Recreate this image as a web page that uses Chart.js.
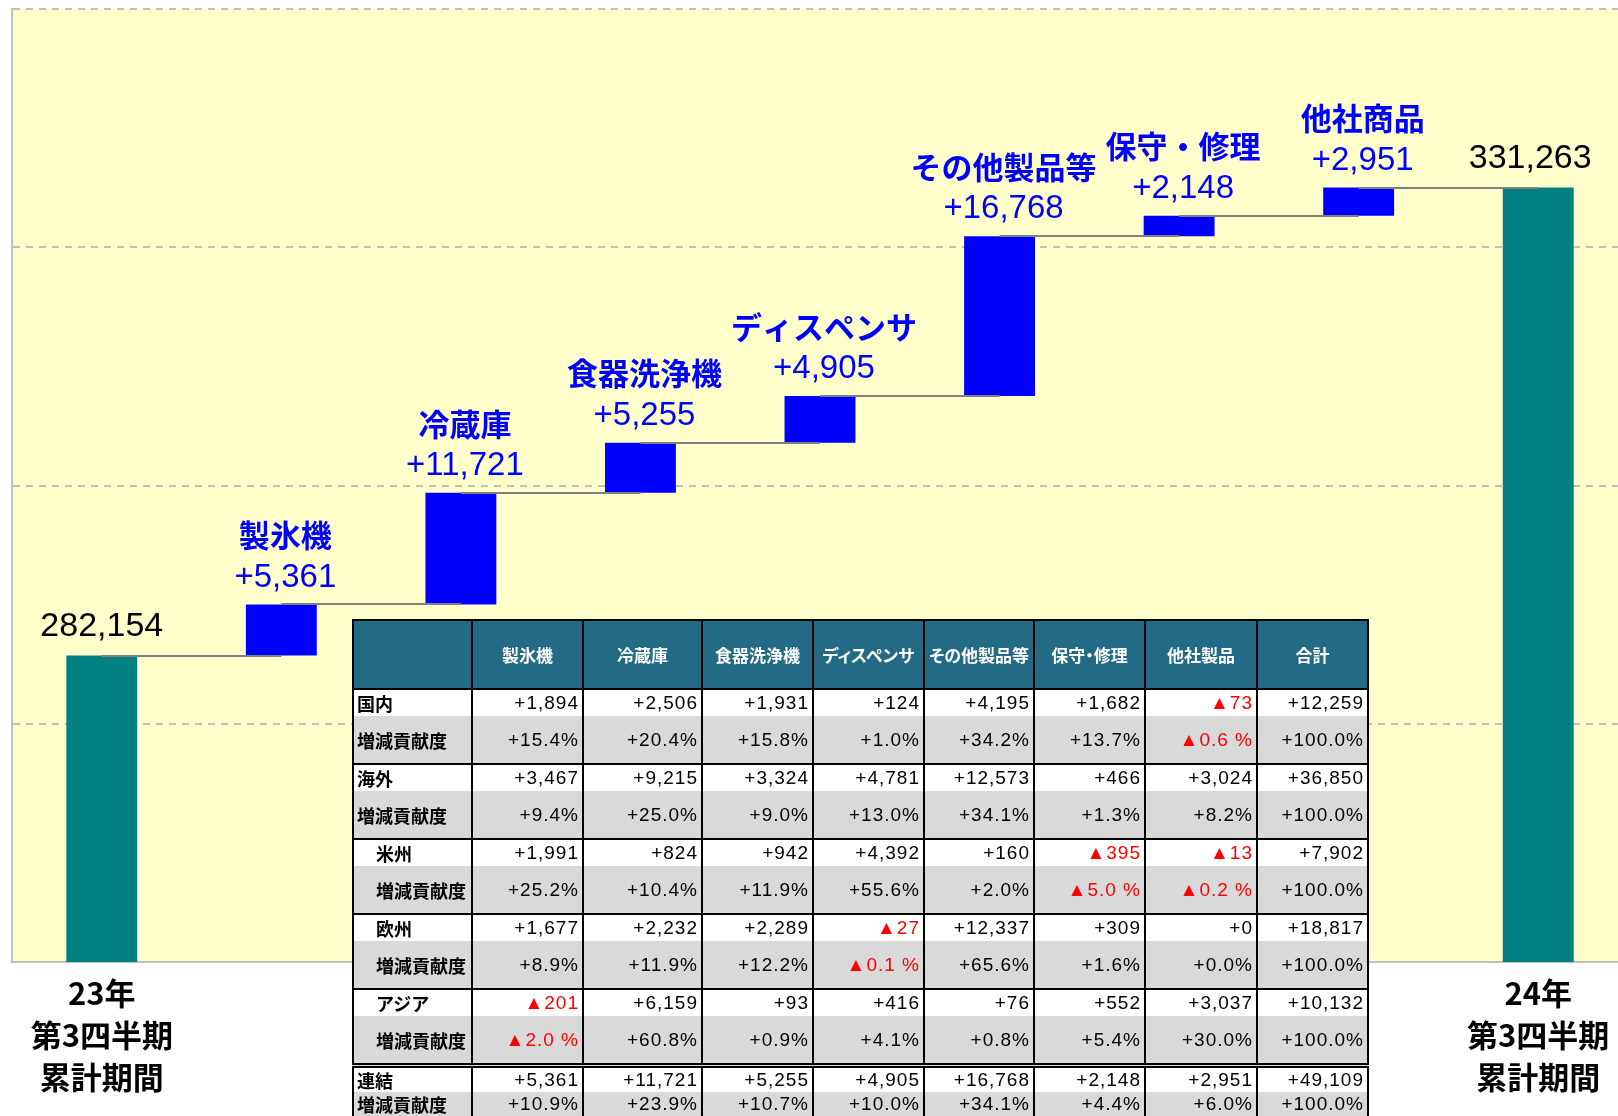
<!DOCTYPE html>
<html lang="ja">
<head>
<meta charset="utf-8">
<script src="https://cdn.jsdelivr.net/npm/chart.js@4.4.1/dist/chart.umd.min.js"></script>
<style>
  html, body { margin: 0; padding: 0; background: #fff; width: 1618px; height: 1116px; overflow: hidden; }
  #wrap { position: relative; width: 1618px; height: 1116px; }
  #chart { position: absolute; left: 0; top: 0; }
  #breakdown {
    position: absolute; left: 352px; top: 619px; width: 1015px;
    border-collapse: collapse; table-layout: fixed;
    font-family: "Liberation Sans", Arial, sans-serif; font-size: 19px; color: #000;
    border: 2px solid #000;
  }
  #breakdown th {
    background: #236b84; color: #fff; height: 67px; padding: 0;
    font: bold 17px "Noto Sans CJK JP", sans-serif; font-feature-settings: "palt";
    border: 2px solid #000; text-align: center; white-space: nowrap;
  }
  #breakdown td {
    padding: 0 3px 0 3px; text-align: right; letter-spacing: 1px;
    border-left: 2px solid #000; border-right: 2px solid #000; white-space: nowrap;
  }
  #breakdown td.lbl {
    text-align: left; font: bold 18px "Noto Sans CJK JP", sans-serif; letter-spacing: 0;
  }
  #breakdown td.sub { padding-left: 22px; }
  #breakdown tr.amt td { background: #fff; height: 26px; line-height: 22px; }
  #breakdown tr.pct td { background: #d9d9d9; height: 47px; }
  #breakdown tr.grp td { border-top: 2px solid #000; }
  #breakdown tr.total td { border-top: 5px double #000; }
  #breakdown tr.compact td { height: 24px; line-height: 22px; }
  #breakdown .neg { color: #ff0000; }
</style>
</head>
<body>
<div id="wrap">
  <canvas id="chart" width="1640" height="1116"></canvas>
  <table id="breakdown"></table>
</div>
<script>
// waterfall data
const periodStart = ['23年', '第3四半期', '累計期間'];
const periodEnd = ['24年', '第3四半期', '累計期間'];
const stepNames = ['製氷機', '冷蔵庫', '食器洗浄機', 'ディスペンサ', 'その他製品等', '保守・修理', '他社商品'];
const stepValues = [5361, 11721, 5255, 4905, 16768, 2148, 2951];
const startTotal = 282154;
const endTotal = 331263;
const yTicks = [250000, 275000, 300000, 325000, 350000];

// table data
const tableColumns = ['製氷機', '冷蔵庫', '食器洗浄機', 'ディスペンサ', 'その他製品等', '保守・修理', '他社製品', '合計'];
const domestic = [1894, 2506, 1931, 124, 4195, 1682, -73, 12259];
const domesticShare = [15.4, 20.4, 15.8, 1.0, 34.2, 13.7, -0.6, 100.0];
const overseas = [3467, 9215, 3324, 4781, 12573, 466, 3024, 36850];
const overseasShare = [9.4, 25.0, 9.0, 13.0, 34.1, 1.3, 8.2, 100.0];
const americas = [1991, 824, 942, 4392, 160, -395, -13, 7902];
const americasShare = [25.2, 10.4, 11.9, 55.6, 2.0, -5.0, -0.2, 100.0];
const europe = [1677, 2232, 2289, -27, 12337, 309, 0, 18817];
const europeShare = [8.9, 11.9, 12.2, -0.1, 65.6, 1.6, 0.0, 100.0];
const asia = [-201, 6159, 93, 416, 76, 552, 3037, 10132];
const asiaShare = [-2.0, 60.8, 0.9, 4.1, 0.8, 5.4, 30.0, 100.0];
const consolidated = [5361, 11721, 5255, 4905, 16768, 2148, 2951, 49109];
const consolidatedShare = [10.9, 23.9, 10.7, 10.0, 34.1, 4.4, 6.0, 100.0];

const fmtNum = n => n < 0 ? '▲' + Math.abs(n).toLocaleString('en-US') : '+' + n.toLocaleString('en-US');
const fmtPct = p => p < 0 ? '▲' + Math.abs(p).toFixed(1) + ' %' : '+' + p.toFixed(1) + '%';
const fmtTotal = n => n.toLocaleString('en-US');

// build floating bars
const labels = [periodStart, ...stepNames, periodEnd];
const bars = [[0, startTotal]];
const levels = [startTotal];
let running = startTotal;
stepValues.forEach(v => {
    bars.push([running, running + v]);
    running += v;
    levels.push(running);
});
bars.push([0, endTotal]);

const barColors = labels.map((l, i) => (i === 0 || i === labels.length - 1) ? '#008080' : '#0000ff');

const plotBackground = {
    id: 'plotBackground',
    beforeDraw(chart) {
        const { ctx, chartArea } = chart;
        ctx.save();
        ctx.fillStyle = '#ffffcc';
        ctx.fillRect(chartArea.left, chartArea.top, chartArea.right - chartArea.left, chartArea.bottom - chartArea.top);
        ctx.restore();
    }
};

// gray step lines from the centre of one bar to the centre of the next
const connectors = {
    id: 'connectors',
    afterDatasetsDraw(chart) {
        const { ctx, scales } = chart;
        ctx.save();
        ctx.strokeStyle = '#808080';
        ctx.lineWidth = 2;
        levels.forEach((lv, i) => {
            const y = Math.round(scales.y.getPixelForValue(lv));
            ctx.beginPath();
            ctx.moveTo(scales.x.getPixelForValue(i), y);
            ctx.lineTo(scales.x.getPixelForValue(i + 1), y);
            ctx.stroke();
        });
        ctx.restore();
    }
};

const barLabels = {
    id: 'barLabels',
    afterDatasetsDraw(chart) {
        const ctx = chart.ctx;
        const meta = chart.getDatasetMeta(0);
        ctx.save();
        ctx.textAlign = 'center';
        ctx.textBaseline = 'middle';
        meta.data.forEach((el, i) => {
            const top = Math.min(el.y, el.base);
            if (i === 0 || i === meta.data.length - 1) {
                ctx.fillStyle = '#000';
                ctx.font = '34px "Liberation Sans", Arial, sans-serif';
                ctx.fillText(fmtTotal(i === 0 ? startTotal : endTotal), el.x - (i === 0 ? 0 : 8), top - 29);
            } else {
                ctx.fillStyle = '#0000ff';
                ctx.font = '33px "Liberation Sans", Arial, sans-serif';
                ctx.fillText(fmtNum(stepValues[i - 1]), el.x + 4, top - 27);
                ctx.font = 'bold 31px "Noto Sans CJK JP", sans-serif';
                ctx.fillText(stepNames[i - 1], el.x + 4, top - 69);
            }
        });
        ctx.restore();
    }
};

new Chart(document.getElementById('chart').getContext('2d'), {
    type: 'bar',
    data: {
        labels: labels,
        datasets: [{
            data: bars,
            backgroundColor: barColors,
            borderWidth: 0,
            barPercentage: 0.395,
            categoryPercentage: 1
        }]
    },
    options: {
        responsive: false,
        animation: false,
        devicePixelRatio: 1,
        layout: { padding: { left: 12, top: 9, right: 12, bottom: 8 } },
        plugins: {
            legend: { display: false },
            tooltip: { enabled: false }
        },
        scales: {
            x: {
                grid: { display: false, drawTicks: false },
                border: { display: true, color: '#c0c0c0', width: 2 },
                ticks: {
                    autoSkip: false,
                    maxRotation: 0,
                    padding: 10,
                    color: '#000',
                    font: { family: '"Noto Sans CJK JP", sans-serif', size: 31, weight: 'bold', lineHeight: '42px' },
                    callback: (v, i) => (i === 0 || i === labels.length - 1) ? labels[i] : ''
                }
            },
            y: {
                min: yTicks[0],
                max: yTicks[yTicks.length - 1],
                afterBuildTicks: axis => { axis.ticks = yTicks.map(v => ({ value: v })); },
                ticks: { display: false },
                grid: { color: '#c0c0c0', lineWidth: 2, drawTicks: false },
                border: { display: true, color: '#c0c0c0', width: 2, dash: [7, 6] }
            }
        }
    },
    plugins: [plotBackground, connectors, barLabels]
});

// breakdown table
const tableRows = [
    { name: '国内', amounts: domestic, shares: domesticShare, sub: false },
    { name: '海外', amounts: overseas, shares: overseasShare, sub: false },
    { name: '米州', amounts: americas, shares: americasShare, sub: true },
    { name: '欧州', amounts: europe, shares: europeShare, sub: true },
    { name: 'アジア', amounts: asia, shares: asiaShare, sub: true },
    { name: '連結', amounts: consolidated, shares: consolidatedShare, sub: false, total: true }
];
const colWidths = [119, 111, 119, 111, 111, 110, 111, 112, 111];

let html = '<colgroup>' + colWidths.map(w => '<col style="width:' + w + 'px">').join('') + '</colgroup>';
html += '<tr><th></th>' + tableColumns.map(c => '<th>' + c + '</th>').join('') + '</tr>';
tableRows.forEach(r => {
    const cls = r.total ? 'total compact' : 'grp';
    const lbl = 'lbl' + (r.sub ? ' sub' : '');
    html += '<tr class="amt ' + cls + '"><td class="' + lbl + '">' + r.name + '</td>' +
        r.amounts.map(v => '<td' + (v < 0 ? ' class="neg"' : '') + '>' + fmtNum(v) + '</td>').join('') + '</tr>';
    html += '<tr class="pct' + (r.total ? ' compact' : '') + '"><td class="' + lbl + '">増減貢献度</td>' +
        r.shares.map(v => '<td' + (v < 0 ? ' class="neg"' : '') + '>' + fmtPct(v) + '</td>').join('') + '</tr>';
});
document.getElementById('breakdown').innerHTML = html;
</script>
</body>
</html>
